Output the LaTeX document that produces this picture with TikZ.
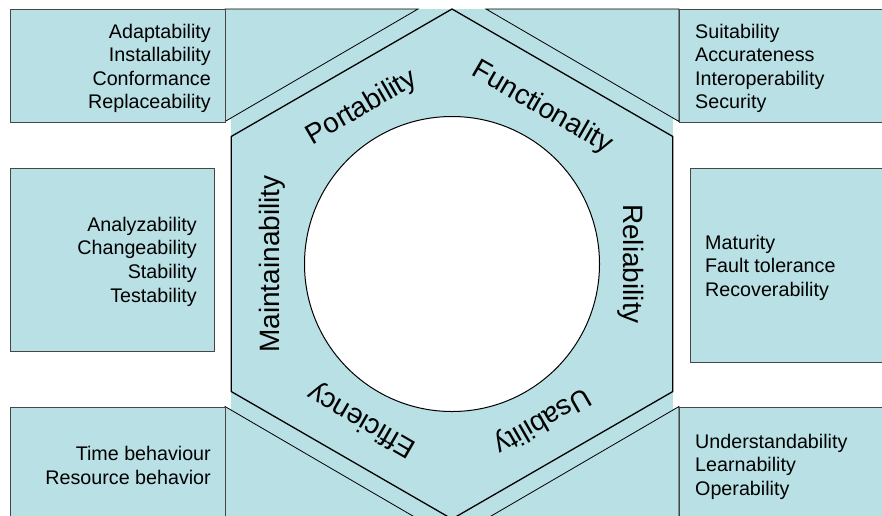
\documentclass[tikz,border=0pt]{standalone}
\usepackage{fontspec}
\setmainfont{Liberation Sans}
\definecolor{paneblue}{RGB}{185,224,228}
\definecolor{boxline}{RGB}{70,70,70}
\begin{document}
\begin{tikzpicture}[x=1pt,y=-1pt,
  panel/.style={fill=paneblue, draw=boxline, line width=1pt},
  wedge/.style={fill=paneblue, draw=black, line width=0.8pt, line join=miter},
  itemlist/.style={inner sep=0pt, font=\fontsize{19.7}{23.6}\selectfont},
  facet/.style={inner sep=0pt, font=\fontsize{28}{32}\selectfont}]
\useasboundingbox (0,0) rectangle (882,515);
\clip (0,0) rectangle (882,515);

% hexagon corners (pointy top, circumradius 255)
\coordinate (hT)  at (452,9);
\coordinate (hUR) at (672.8,136.5);
\coordinate (hLR) at (672.8,391.5);
\coordinate (hB)  at (452,519);
\coordinate (hLL) at (231.2,391.5);
\coordinate (hUL) at (231.2,136.5);

% band behind the hexagon
\fill[paneblue] (231.2,9) rectangle (672.8,519);

% corner wedges next to the outer boxes
\draw[wedge] (225,9) -- (418,9) -- (225,121.5) -- cycle;
\draw[wedge] (679,9) -- (486,9) -- (679,121.5) -- cycle;
\draw[wedge] (225,519) -- (418,519) -- (225,406.5) -- cycle;
\draw[wedge] (679,519) -- (486,519) -- (679,406.5) -- cycle;

% outer boxes
\draw[panel] (10,9) rectangle (225,122);
\draw[panel] (679,9) rectangle (894,122);
\draw[panel] (10,168) rectangle (214,351);
\draw[panel] (690,168) rectangle (894,362);
\draw[panel] (10,407) rectangle (225,519);
\draw[panel] (679,407) rectangle (894,519);

% hexagon and inner circle
\draw[fill=paneblue, draw=black, line width=1.3pt, line join=miter]
  (hT) -- (hUR) -- (hLR) -- (hB) -- (hLL) -- (hUL) -- cycle;
\node[circle, draw=black, line width=1pt, fill=white, minimum size=295pt, inner sep=0pt] (core) at (452,264) {};

% facet labels around the ring
\node[facet, rotate=30]  (port) at (362,108) {Portability};
\node[facet, rotate=-30] (func) at (542,108) {Functionality};
\node[facet, rotate=-90] (reli) at (631,264) {Reliability};
\node[facet, rotate=210] (usab) at (542,420) {Usability};
\node[facet, rotate=150] (effi) at (362,420) {Efficiency};
\node[facet, rotate=90]  (main) at (272,264) {Maintainability};

% sub-characteristics
\node[itemlist, align=right, anchor=east] (portlist) at (211,68.5)
  {Adaptability\\Installability\\Conformance\\Replaceability};
\node[itemlist, align=left, anchor=west] (funclist) at (695,68.5)
  {Suitability\\Accurateness\\Interoperability\\Security};
\node[itemlist, align=right, anchor=east] (mainlist) at (197,261.5)
  {Analyzability\\Changeability\\Stability\\Testability};
\node[itemlist, align=left, anchor=west] (relilist) at (705,267.5)
  {Maturity\\Fault tolerance\\Recoverability};
\node[itemlist, align=right, anchor=east] (effilist) at (211,465.5)
  {Time behaviour\\Resource behavior};
\node[itemlist, align=left, anchor=west] (usablist) at (695,466.5)
  {Understandability\\Learnability\\Operability};
\end{tikzpicture}
\end{document}
